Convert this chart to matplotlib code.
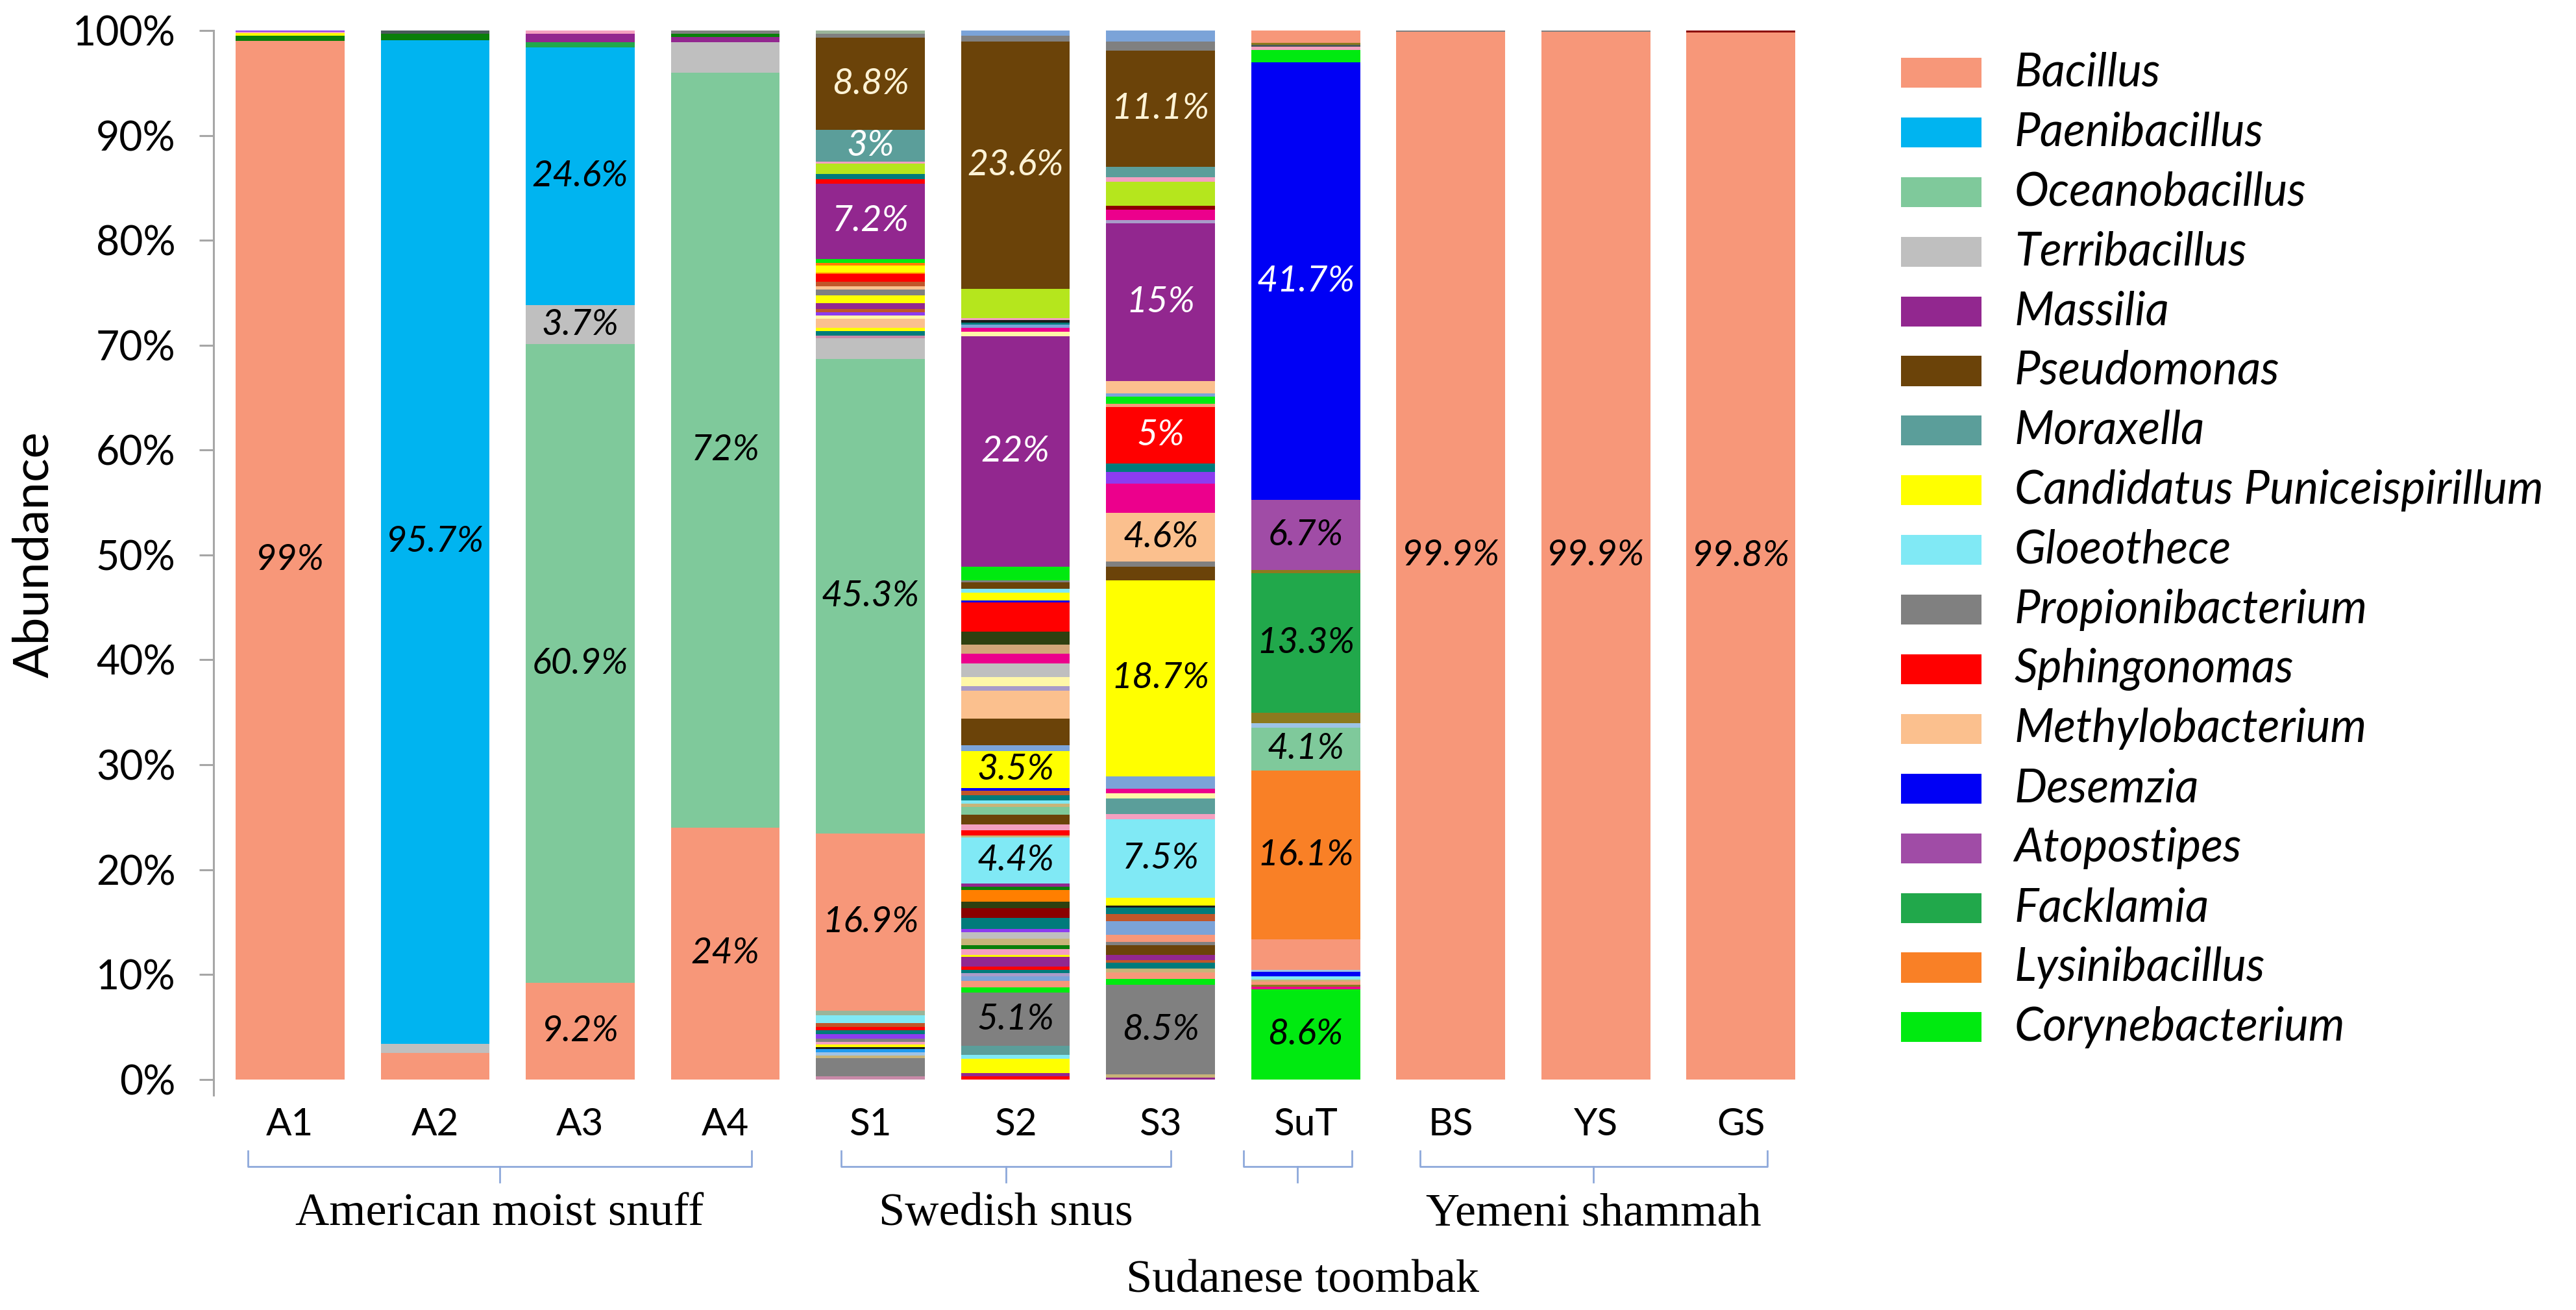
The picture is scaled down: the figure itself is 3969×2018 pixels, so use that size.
import matplotlib
matplotlib.use("Agg")
import matplotlib.pyplot as plt
from matplotlib.patches import Rectangle

# samples (x axis) and their groups
samples = ["A1", "A2", "A3", "A4", "S1", "S2", "S3", "SuT", "BS", "YS", "GS"]

# legend genera and colours
genera = ["Bacillus", "Paenibacillus", "Oceanobacillus", "Terribacillus", "Massilia",
          "Pseudomonas", "Moraxella", "Candidatus Puniceispirillum", "Gloeothece",
          "Propionibacterium", "Sphingonomas", "Methylobacterium", "Desemzia",
          "Atopostipes", "Facklamia", "Lysinibacillus", "Corynebacterium"]
genus_colors = ["#F79779", "#00B4F0", "#7FC99B", "#BFBFBF", "#92278F",
                "#6B4309", "#5B9E9A", "#FFFF00", "#80E9F5",
                "#808080", "#FF0000", "#FBC08E", "#0000F5",
                "#A04CA6", "#21A84B", "#F98026", "#00EA10"]

# colours of the many minor genera (not in legend)
minor_colors = {"yg": "#B5E61D", "mag": "#EC008C", "dteal": "#007B7B", "dolive": "#2E4010",
                "dred": "#8B0000", "orange": "#FF7F00", "lpink": "#F4A0C0", "steel": "#7BA3D8",
                "dgreen": "#0A7F0A", "violet": "#8C3CF0", "khaki": "#C8B478", "lyellow": "#FFF7A8",
                "olive": "#8C7A1E", "tan": "#D2A679", "lav": "#A99BC9", "sky": "#1E9BF0",
                "dark": "#1A1A1A", "mauve": "#C88AA8", "brownorg": "#C0562A", "slate": "#4A5A5A",
                "grgr": "#9AB59A", "lblue": "#9DC3E6"}

# segments of each bar, bottom to top (genus, % abundance)
A1 = [("Bacillus", 99.0), ("dgreen", 0.5), ("Candidatus Puniceispirillum", 0.25), ("lpink", 0.15), ("violet", 0.1)]
A2 = [("Bacillus", 2.5), ("Terribacillus", 0.9), ("Paenibacillus", 95.7), ("dgreen", 0.6), ("slate", 0.3)]
A3 = [("Bacillus", 9.2), ("Oceanobacillus", 60.9), ("Terribacillus", 3.7), ("Paenibacillus", 24.6),
      ("Facklamia", 0.5), ("Massilia", 0.8), ("lpink", 0.3)]
A4 = [("Bacillus", 24.0), ("Oceanobacillus", 72.0), ("Terribacillus", 2.9), ("Massilia", 0.5),
      ("dgreen", 0.3), ("Propionibacterium", 0.3)]
S1 = [("mauve", 0.3), ("Propionibacterium", 1.75), ("khaki", 0.25), ("lblue", 0.3), ("sky", 0.3),
      ("dark", 0.2), ("Candidatus Puniceispirillum", 0.25), ("lpink", 0.25), ("Propionibacterium", 0.3),
      ("violet", 0.4), ("dteal", 0.4), ("Sphingonomas", 0.3), ("brownorg", 0.35), ("Gloeothece", 0.8),
      ("grgr", 0.4), ("Bacillus", 16.9), ("Oceanobacillus", 45.3), ("Terribacillus", 2.0), ("mauve", 0.25),
      ("dteal", 0.4), ("Candidatus Puniceispirillum", 0.3), ("Methylobacterium", 0.9), ("lyellow", 0.3),
      ("violet", 0.3), ("brownorg", 0.3), ("Massilia", 0.6), ("Candidatus Puniceispirillum", 0.7),
      ("Propionibacterium", 0.6), ("Methylobacterium", 0.3), ("brownorg", 0.4), ("Sphingonomas", 0.8),
      ("orange", 0.1), ("Candidatus Puniceispirillum", 0.7), ("orange", 0.2), ("Corynebacterium", 0.4),
      ("Massilia", 7.2), ("Sphingonomas", 0.4), ("dteal", 0.5), ("yg", 1.0), ("lpink", 0.2),
      ("Moraxella", 3.0), ("Pseudomonas", 8.8), ("Propionibacterium", 0.4), ("grgr", 0.3)]
S2 = [("Sphingonomas", 0.3), ("Massilia", 0.3), ("Candidatus Puniceispirillum", 1.34), ("Gloeothece", 0.41),
      ("Moraxella", 0.83), ("Propionibacterium", 5.1), ("Corynebacterium", 0.51), ("Bacillus", 0.62),
      ("steel", 0.42), ("lav", 0.31), ("dteal", 0.31), ("Sphingonomas", 0.3), ("Massilia", 0.93),
      ("Candidatus Puniceispirillum", 0.21), ("lpink", 0.52), ("dgreen", 0.41), ("khaki", 0.63),
      ("Terribacillus", 0.6), ("violet", 0.3), ("dteal", 1.05), ("dred", 0.92), ("dolive", 0.63),
      ("orange", 1.13), ("dgreen", 0.31), ("Massilia", 0.31), ("Gloeothece", 4.4), ("khaki", 0.19),
      ("Sphingonomas", 0.5), ("lpink", 0.54), ("Pseudomonas", 0.9), ("Oceanobacillus", 0.77),
      ("khaki", 0.33), ("Gloeothece", 0.27), ("dteal", 0.5), ("brownorg", 0.42), ("Desemzia", 0.27),
      ("Candidatus Puniceispirillum", 3.5), ("steel", 0.6), ("Pseudomonas", 2.5), ("Methylobacterium", 2.7),
      ("lav", 0.4), ("lyellow", 0.9), ("Terribacillus", 1.3), ("mag", 0.9), ("tan", 0.9), ("dolive", 1.2),
      ("Sphingonomas", 2.8), ("Desemzia", 0.2), ("Candidatus Puniceispirillum", 0.7), ("Gloeothece", 0.4),
      ("Pseudomonas", 0.6), ("Propionibacterium", 0.2), ("Corynebacterium", 1.3), ("Massilia", 22.0),
      ("lyellow", 0.4), ("mag", 0.4), ("steel", 0.3), ("dteal", 0.2), ("dark", 0.2), ("lpink", 0.2),
      ("yg", 2.8), ("Pseudomonas", 23.6), ("Propionibacterium", 0.54), ("steel", 0.5)]
S3 = [("Massilia", 0.2), ("khaki", 0.3), ("Propionibacterium", 8.5), ("Corynebacterium", 0.6),
      ("Bacillus", 0.6), ("khaki", 0.4), ("dteal", 0.5), ("brownorg", 0.3), ("Massilia", 0.5),
      ("Pseudomonas", 0.9), ("Propionibacterium", 0.3), ("Bacillus", 0.7), ("steel", 1.3),
      ("brownorg", 0.7), ("dteal", 0.6), ("dark", 0.2), ("Candidatus Puniceispirillum", 0.7),
      ("Gloeothece", 7.5), ("lpink", 0.5), ("Moraxella", 1.5), ("lyellow", 0.5), ("mag", 0.4),
      ("steel", 1.2), ("Candidatus Puniceispirillum", 18.7), ("Pseudomonas", 1.3), ("Propionibacterium", 0.5),
      ("Methylobacterium", 4.6), ("mag", 2.8), ("violet", 1.1), ("dteal", 0.8), ("Sphingonomas", 5.4),
      ("Bacillus", 0.3), ("Corynebacterium", 0.7), ("steel", 0.3), ("Methylobacterium", 1.2),
      ("Massilia", 15.0), ("lav", 0.3), ("mag", 1.0), ("dred", 0.4), ("yg", 2.3), ("lpink", 0.4),
      ("Moraxella", 1.0), ("Pseudomonas", 11.1), ("Propionibacterium", 0.85), ("steel", 1.05)]
SuT = [("Corynebacterium", 8.6), ("mag", 0.25), ("olive", 0.2), ("Bacillus", 0.3), ("khaki", 0.2),
       ("Gloeothece", 0.3), ("Desemzia", 0.4), ("lblue", 0.2), ("Bacillus", 2.9), ("Lysinibacillus", 16.1),
       ("Oceanobacillus", 4.1), ("lblue", 0.4), ("olive", 1.0), ("Facklamia", 13.3), ("olive", 0.3),
       ("Atopostipes", 6.7), ("Desemzia", 41.7), ("Corynebacterium", 1.2), ("lpink", 0.3), ("slate", 0.2),
       ("olive", 0.2), ("Bacillus", 1.15)]
BS = [("Bacillus", 99.9), ("Propionibacterium", 0.1)]
YS = [("Bacillus", 99.9), ("Propionibacterium", 0.1)]
GS = [("Bacillus", 99.8), ("dred", 0.2)]

# value labels: (sample, genus, text, colour)
bar_labels = [("A1", "Bacillus", "99%", "black"),
              ("A2", "Paenibacillus", "95.7%", "black"),
              ("A3", "Paenibacillus", "24.6%", "black"), ("A3", "Terribacillus", "3.7%", "black"),
              ("A3", "Oceanobacillus", "60.9%", "black"), ("A3", "Bacillus", "9.2%", "black"),
              ("A4", "Oceanobacillus", "72%", "black"), ("A4", "Bacillus", "24%", "black"),
              ("S1", "Pseudomonas", "8.8%", "#FFF3D6"), ("S1", "Moraxella", "3%", "white"),
              ("S1", "Massilia", "7.2%", "white"), ("S1", "Oceanobacillus", "45.3%", "black"),
              ("S1", "Bacillus", "16.9%", "black"),
              ("S2", "Pseudomonas", "23.6%", "#FFF3D6"), ("S2", "Massilia", "22%", "white"),
              ("S2", "Candidatus Puniceispirillum", "3.5%", "black"), ("S2", "Gloeothece", "4.4%", "black"),
              ("S2", "Propionibacterium", "5.1%", "black"),
              ("S3", "Pseudomonas", "11.1%", "#FFF3D6"), ("S3", "Massilia", "15%", "white"),
              ("S3", "Sphingonomas", "5%", "white"), ("S3", "Methylobacterium", "4.6%", "black"),
              ("S3", "Candidatus Puniceispirillum", "18.7%", "black"), ("S3", "Gloeothece", "7.5%", "black"),
              ("S3", "Propionibacterium", "8.5%", "black"),
              ("SuT", "Desemzia", "41.7%", "white"), ("SuT", "Atopostipes", "6.7%", "black"),
              ("SuT", "Facklamia", "13.3%", "black"), ("SuT", "Oceanobacillus", "4.1%", "black"),
              ("SuT", "Lysinibacillus", "16.1%", "black"), ("SuT", "Corynebacterium", "8.6%", "black"),
              ("BS", "Bacillus", "99.9%", "black"), ("YS", "Bacillus", "99.9%", "black"),
              ("GS", "Bacillus", "99.8%", "black")]

# group brackets: (label, start, end) in sample positions
groups = [("American moist snuff", -0.29, 3.18),
          ("Swedish snus", 3.80, 6.07),
          ("", 6.57, 7.32),
          ("Yemeni shammah", 7.79, 10.18)]

plt.rcParams['font.family'] = ['Lato', 'DejaVu Sans']

color_of = dict(zip(genera, genus_colors))
color_of.update(minor_colors)

fig = plt.figure(figsize=(39.69, 20.18), dpi=100)
ax = fig.add_axes([0.0829, 0.164, 0.6226, 0.8127])

bars = [A1, A2, A3, A4, S1, S2, S3, SuT, BS, YS, GS]
seg_pos = {}
for i, segs in enumerate(bars):
    total = sum(v for _, v in segs)
    bottom = 0.0
    for name, v in segs:
        h = v / total
        ax.bar(i, h, bottom=bottom, width=0.75, color=color_of[name], linewidth=0)
        key = (samples[i], name)
        if key not in seg_pos or h > seg_pos[key][1]:
            seg_pos[key] = (bottom + h / 2, h)
        bottom += h

for s, g, txt, c in bar_labels:
    ax.text(samples.index(s), seg_pos[(s, g)][0], txt, ha="center", va="center",
            fontsize=40, style="italic", color=c)

ax.set_xlim(-0.527, 10.527)
ax.set_ylim(-0.015, 1.0)
ax.set_yticks([i / 10 for i in range(11)])
ax.set_yticklabels([f"{i * 10}%" for i in range(11)])
ax.set_xticks(range(len(samples)))
ax.set_xticklabels(samples)
for sp in ["top", "right", "bottom"]:
    ax.spines[sp].set_visible(False)
ax.spines["left"].set_color("#A6A6A6")
ax.spines["left"].set_linewidth(2.2)
ax.tick_params(axis="y", length=16, width=2.2, color="#A6A6A6", pad=26, labelsize=45)
ax.tick_params(axis="x", length=0, pad=14, labelsize=42)

# brackets under the sample names
bcol = "#8EA9DB"
for name, x0, x1 in groups:
    xm = (x0 + x1) / 2
    ax.plot([x0, x0, x1, x1], [-0.068, -0.083, -0.083, -0.068], color=bcol, lw=2, clip_on=False)
    ax.plot([xm, xm], [-0.083, -0.098], color=bcol, lw=2, clip_on=False)
    if name:
        ax.text(xm, -0.128, name, ha="center", va="center", fontsize=52,
                family="Liberation Serif", clip_on=False)
ax.text(6.98, -0.192, "Sudanese toombak", ha="center", va="center", fontsize=52,
        family="Liberation Serif", clip_on=False)

fig.text(0.0134, 0.5768, "Abundance", rotation=90, ha="center", va="center", fontsize=55)

# legend drawn by hand
for k, (g, c) in enumerate(zip(genera, genus_colors)):
    yc = 1 - (112 + 91.9 * k) / 2018
    fig.add_artist(Rectangle((0.738, yc - 0.0114), 0.0313, 0.0228, transform=fig.transFigure,
                             facecolor=c, edgecolor="none"))
    fig.text(0.782, yc, g, ha="left", va="center", fontsize=51, style="italic")

fig.savefig("out.png", dpi=100)
